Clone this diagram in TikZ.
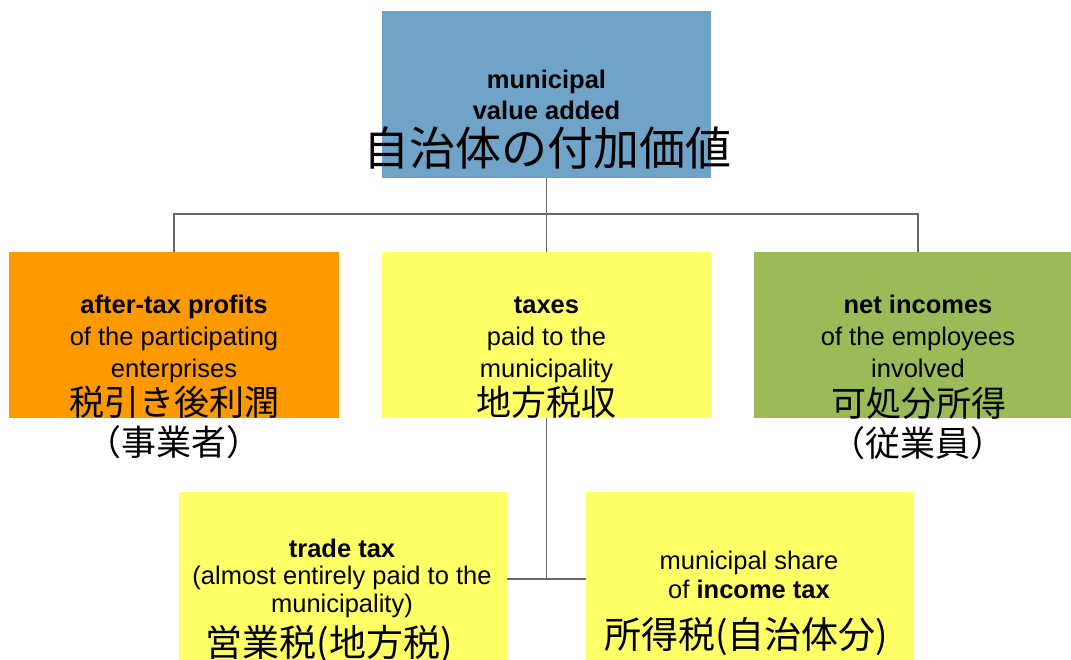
\documentclass[tikz,border=0pt]{standalone}
\usepackage{fontspec}
\setmainfont{Liberation Sans}
\newfontfamily\jpfont{Noto Sans CJK JP}
\definecolor{boxblue}{RGB}{111,163,200}
\definecolor{boxorange}{RGB}{255,153,0}
\definecolor{boxyellow}{RGB}{255,255,102}
\definecolor{boxgreen}{RGB}{155,187,89}
\definecolor{linegray}{RGB}{105,105,105}
\begin{document}
\begin{tikzpicture}[x=1pt,y=-1pt,
  box/.style={rectangle, draw=none, inner sep=0pt, minimum width=328pt, minimum height=167pt},
  lat/.style={font=\fontsize{25.5}{30}\selectfont, anchor=base, inner sep=0pt},
  jpbig/.style={font=\jpfont\fontsize{46}{50}\selectfont, anchor=base, inner sep=0pt},
  jpmid/.style={font=\jpfont\fontsize{35}{40}\selectfont, anchor=base, inner sep=0pt},
  jplow/.style={font=\jpfont\fontsize{37}{40}\selectfont, anchor=base, inner sep=0pt},
  conn/.style={draw=linegray, line width=1.5pt}]
\clip (0,0) rectangle (1071,659);
\fill[white] (0,0) rectangle (1071,659);
% boxes
\node[box, fill=boxblue, minimum width=329pt] (top) at (546.5,94.5) {};
\node[box, fill=boxorange, minimum width=330pt, minimum height=166pt] (prof) at (174,335) {};
\node[box, fill=boxyellow, minimum width=329pt, minimum height=166pt] (tax) at (546.5,335) {};
\node[box, fill=boxgreen, minimum height=166pt] (inc) at (918,335) {};
\node[box, fill=boxyellow, minimum height=168pt] (trade) at (343,576) {};
\node[box, fill=boxyellow, minimum height=168pt] (share) at (750,576) {};
% connectors
\coordinate (j1) at (546.5,214);
\coordinate (j2) at (546.5,579);
\draw[conn] (top.south) -- (tax.north);
\draw[conn] (prof.north) |- (j1) -| (inc.north);
\draw[conn] (tax.south) -- (j2);
\draw[conn] (trade.east |- j2) -- (share.west |- j2);
% texts: top
\node[lat] (t1) at (546.5,88) {\textbf{municipal}};
\node[lat] (t2) at (546.5,119) {\textbf{value added}};
\node[jpbig] (t3) at (547.5,165) {自治体の付加価値};
% profits
\node[lat] (p1) at (174,313) {\textbf{after-tax profits}};
\node[lat] (p2) at (174,345) {of the participating};
\node[lat] (p3) at (174,377) {enterprises};
\node[jpmid] (p4) at (174,415) {税引き後利潤};
\node[jpmid] (p5) at (174,455) {（事業者）};
% taxes
\node[lat] (x1) at (546.5,313) {\textbf{taxes}};
\node[lat] (x2) at (546.5,345) {paid to the};
\node[lat] (x3) at (546.5,377) {municipality};
\node[jpmid] (x4) at (546.5,415) {地方税収};
% incomes
\node[lat] (i1) at (918,313) {\textbf{net incomes}};
\node[lat] (i2) at (918,345) {of the employees};
\node[lat] (i3) at (918,377) {involved};
\node[jpmid] (i4) at (919,416) {可処分所得};
\node[jpmid] (i5) at (918,456) {（従業員）};
% trade tax
\node[lat] (d1) at (342,557) {\textbf{trade tax}};
\node[lat] (d2) at (342,584) {(almost entirely paid to the};
\node[lat] (d3) at (342,612) {municipality)};
\node[jplow] (d4) at (329,656) {営業税(地方税)};
% income tax share
\node[lat] (s1) at (749,569) {municipal share};
\node[lat] (s2) at (749,598) {of \textbf{income tax}};
\node[jplow] (s3) at (746,648) {所得税(自治体分)};
\end{tikzpicture}
\end{document}
